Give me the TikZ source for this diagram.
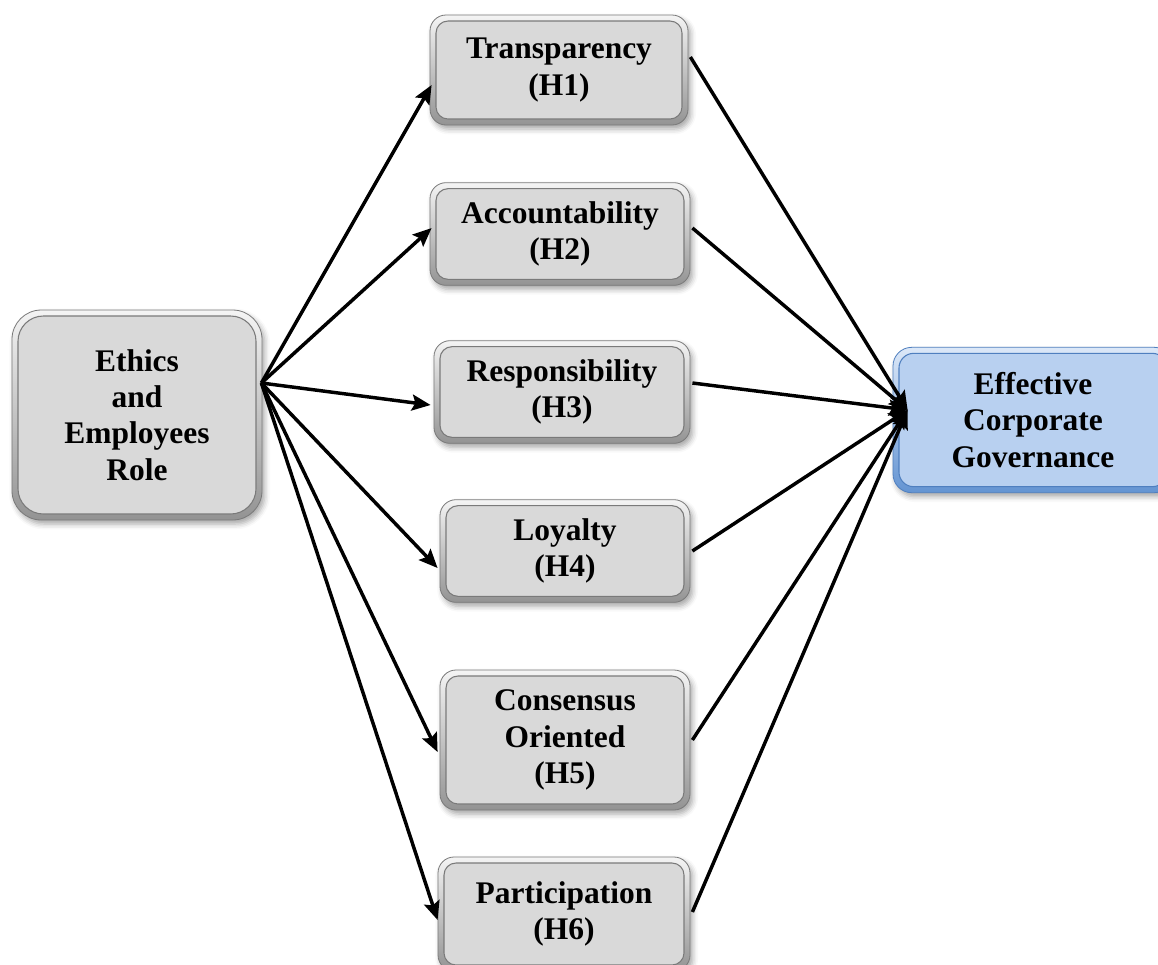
\documentclass[tikz,border=0pt]{standalone}
\usepackage{fontspec}
\setmainfont{Liberation Serif}
\usetikzlibrary{arrows.meta,calc,shadows.blur}

\definecolor{boxface}{HTML}{D9D9D9}
\definecolor{rimlight}{HTML}{F4F4F4}
\definecolor{rimdark}{HTML}{939393}
\definecolor{rimline}{HTML}{7A7A7A}
\definecolor{blueface}{HTML}{B8D0F0}
\definecolor{bluerimlight}{HTML}{DCE8F8}
\definecolor{bluerimdark}{HTML}{6494D2}
\definecolor{blueline}{HTML}{4F7FBF}

\tikzset{
  boxtext/.style={inner sep=0pt, align=center,
    font=\bfseries\fontsize{23.6}{27.2}\selectfont},
  softshadow/.style={blur shadow={shadow xshift=2pt, shadow yshift=-3pt,
    shadow blur radius=4pt, shadow opacity=35}},
  % bevelled box: shaded rim with an inset flat face
  bevel/.style n args={5}{rectangle, boxtext, softshadow,
    rounded corners=#1, draw=#5, line width=0.6pt,
    top color=#3, bottom color=#4,
    path picture={\draw[draw=#5, line width=0.8pt, fill=#2, rounded corners=#1-3pt]
      ([shift={(4.5pt,4.5pt)}]path picture bounding box.south west) rectangle
      ([shift={(-4.5pt,-4.5pt)}]path picture bounding box.north east);}},
  greybox/.style={bevel={12pt}{boxface}{rimlight}{rimdark}{rimline}},
  bigbox/.style={bevel={22pt}{boxface}{rimlight}{rimdark}{rimline}},
  bluebox/.style={bevel={14pt}{blueface}{bluerimlight}{bluerimdark}{blueline}},
  arr/.style={-{Stealth[length=14pt,width=12pt,inset=2.5pt]}, line width=2.6pt, black},
}

\begin{document}
\begin{tikzpicture}[x=0.75pt,y=-0.75pt]
\clip (0,0) rectangle (1158,965);

% driver
\node[bigbox, minimum width=187.5pt, minimum height=157.5pt] (src) at (137,415)
  {Ethics\\and\\Employees\\Role};

% hypotheses
\node[greybox, minimum width=193.5pt, minimum height=82.5pt] (h1) at (559,70) {Transparency\\(H1)};
\node[greybox, minimum width=195pt, minimum height=77pt] (h2) at (560,234) {Accountability\\(H2)};
\node[greybox, minimum width=192pt, minimum height=77pt] (h3) at (562,392) {Responsibility\\(H3)};
\node[greybox, minimum width=187.5pt, minimum height=77pt] (h4) at (565,551) {Loyalty\\(H4)};
\node[greybox, minimum width=187.5pt, minimum height=105pt] (h5) at (565,740) {Consensus\\Oriented\\(H5)};
\node[greybox, minimum width=189pt, minimum height=85.5pt] (h6) at (564,914) {Participation\\(H6)};

% outcome
\node[bluebox, minimum width=210pt, minimum height=109pt] (gov) at (1033,420)
  {Effective\\Corporate\\Governance};

\coordinate (fan) at ($(src.east)+(-1,-32)$);
\coordinate (sink) at ($(gov.west)+(15,-10)$);

% fan-out arrows
\draw[arr] (fan) -- ($(h1.west)+(2,15)$);
\draw[arr] (fan) -- ($(h2.west)+(2,-6)$);
\draw[arr] (fan) -- ($(h3.west)+(-3,13)$);
\draw[arr] (fan) -- ($(h4.west)+(-2,17)$);
\draw[arr] (fan) -- ($(h5.west)+(-2,12)$);
\draw[arr] (fan) -- ($(h6.west)+(0,6)$);

% fan-in arrows
\draw[arr] ($(h1.east)+(2,-13)$) -- (sink);
\draw[arr] ($(h2.east)+(2,-6)$) -- (sink);
\draw[arr] ($(h3.east)+(2,-9)$) -- (sink);
\draw[arr] ($(h4.east)+(2,0)$) -- (sink);
\draw[arr] ($(h5.east)+(2,0)$) -- (sink);
\draw[arr] ($(h6.east)+(2,-2)$) -- (sink);
\end{tikzpicture}
\end{document}
